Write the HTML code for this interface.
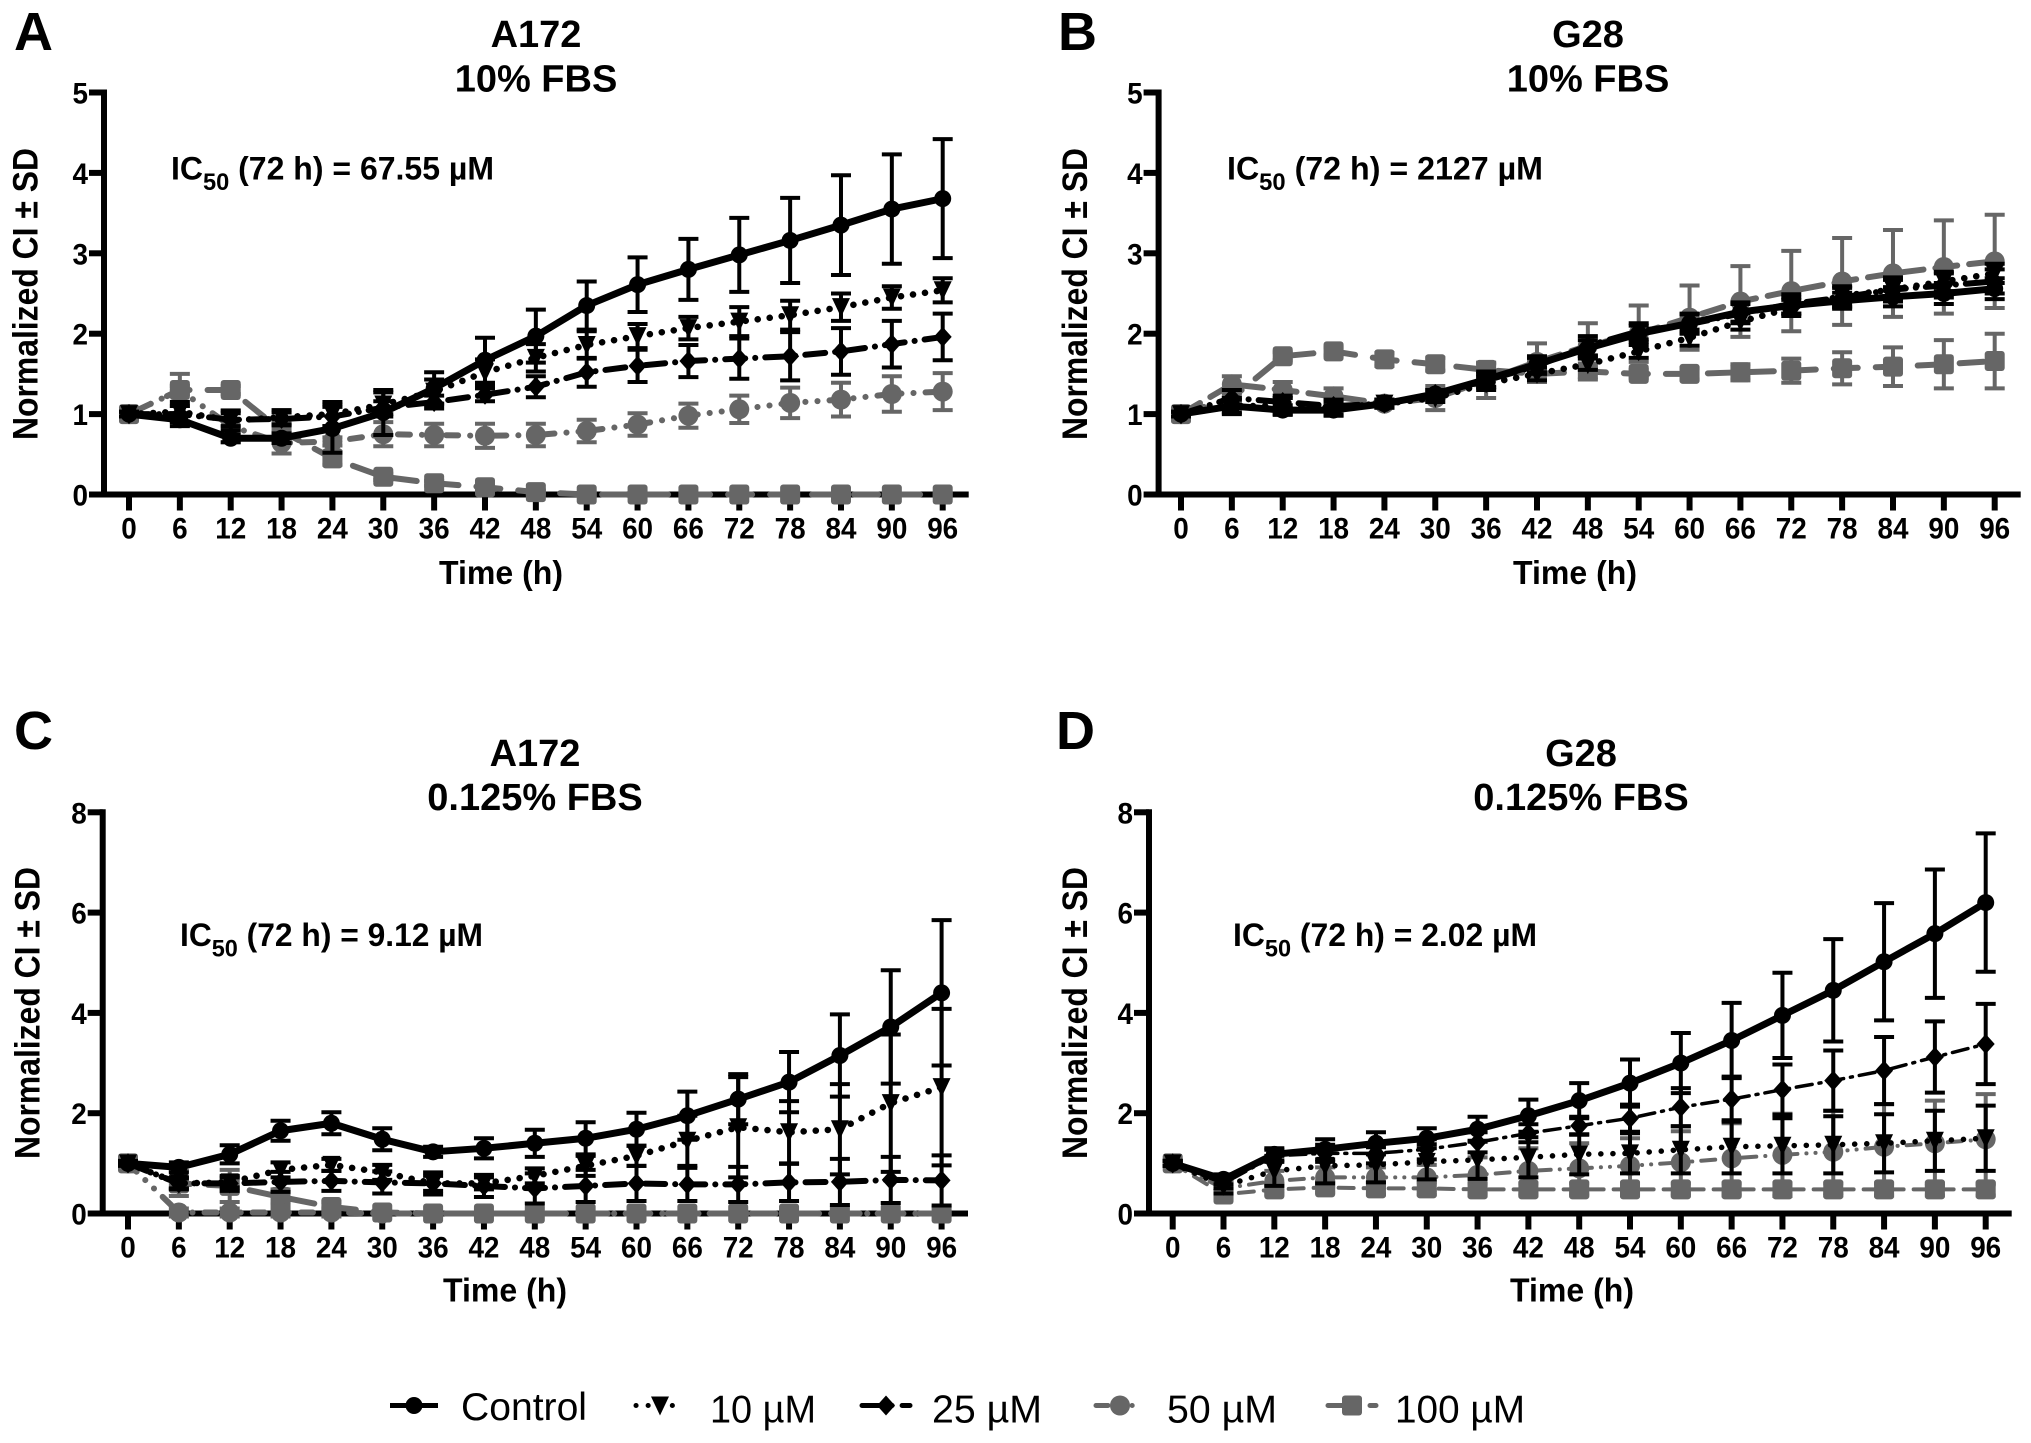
<!DOCTYPE html>
<html>
<head>
<meta charset="utf-8">
<title>Normalized cell index by treatment</title>
<style>
html,body{margin:0;padding:0;background:#fff;width:2031px;height:1443px;overflow:hidden}
svg{display:block;font-family:"Liberation Sans",sans-serif;font-weight:bold;fill:#000}
</style>
</head>
<body>
<svg id="fig" width="2031" height="1443" viewBox="0 0 2031 1443" xmlns="http://www.w3.org/2000/svg">
<rect width="2031" height="1443" fill="#fff"/>
<text x="14" y="50" font-size="54">A</text>
<text x="1058" y="50" font-size="54">B</text>
<text x="14" y="749" font-size="54">C</text>
<text x="1056" y="749" font-size="54">D</text>
<g text-anchor="middle" font-size="38">
<text x="536" y="47">A172</text>
<text x="536" y="91.5">10% FBS</text>
<text x="1588" y="47">G28</text>
<text x="1588" y="91.5">10% FBS</text>
<text x="535" y="766">A172</text>
<text x="535" y="810">0.125% FBS</text>
<text x="1581" y="766">G28</text>
<text x="1581" y="810">0.125% FBS</text>
</g>
<g font-size="32.5">
<text x="171" y="179.5" textLength="323" lengthAdjust="spacingAndGlyphs">IC<tspan font-size="24" dy="10.5">50</tspan><tspan dy="-10.5"> (72 h) = 67.55 µM</tspan></text>
<text x="1227" y="179.5" textLength="316" lengthAdjust="spacingAndGlyphs">IC<tspan font-size="24" dy="10.5">50</tspan><tspan dy="-10.5"> (72 h) = 2127 µM</tspan></text>
<text x="180" y="946" textLength="303" lengthAdjust="spacingAndGlyphs">IC<tspan font-size="24" dy="10.5">50</tspan><tspan dy="-10.5"> (72 h) = 9.12 µM</tspan></text>
<text x="1233" y="946" textLength="304" lengthAdjust="spacingAndGlyphs">IC<tspan font-size="24" dy="10.5">50</tspan><tspan dy="-10.5"> (72 h) = 2.02 µM</tspan></text>
</g>
<g id="panels"></g>
<g id="legend"></g>
</svg>
<script>
// Shared axis data
const timeTicks = [0,6,12,18,24,30,36,42,48,54,60,66,72,78,84,90,96];
const yTicksTop = [0,1,2,3,4,5];
const yTicksBottom = [0,2,4,6,8];
const seriesNames = ['100 µM','50 µM','25 µM','10 µM','Control'];
const legendNames = ['Control','10 µM','25 µM','50 µM','100 µM'];

// Panel A: A172, 10% FBS
const aControl = [1,.93,.70,.70,.82,1.02,1.32,1.67,1.97,2.35,2.61,2.80,2.98,3.16,3.35,3.55,3.68];
const aControlSd = [.03,.08,.05,.06,.3,.28,.2,.28,.33,.30,.34,.38,.46,.53,.62,.68,.74];
const a10 = [1,1.03,.92,.96,1.0,1.12,1.28,1.52,1.70,1.86,1.97,2.07,2.15,2.23,2.33,2.45,2.54];
const a10Sd = [.03,.12,.12,.09,.15,.15,.15,.16,.17,.17,.15,.14,.18,.18,.17,.14,.15];
const a25 = [1,1.0,.93,.94,.97,1.08,1.15,1.24,1.34,1.52,1.60,1.66,1.69,1.72,1.78,1.87,1.96];
const a25Sd = [.03,.1,.08,.08,.12,.08,.08,.08,.13,.18,.2,.2,.25,.3,.29,.29,.29];
const a50 = [1,1.3,.85,.64,.66,.75,.74,.73,.74,.79,.87,.98,1.06,1.14,1.18,1.25,1.28];
const a50Sd = [.05,.2,.2,.13,.05,.15,.14,.15,.14,.14,.14,.15,.17,.19,.21,.22,.23];
const a100 = [1,1.3,1.3,.79,.45,.22,.14,.09,.03,0,0,0,0,0,0,0,0];
const a100Sd = [.03,.05,.05,.1,.08,.04,.03,.03,.02,.01,.01,.01,.01,.01,.01,.01,.01];

// Panel B: G28, 10% FBS
const bControl = [1,1.1,1.05,1.05,1.13,1.25,1.43,1.62,1.82,2.0,2.13,2.27,2.35,2.41,2.46,2.5,2.56];
const bControlSd = [.03,.08,.06,.06,.05,.05,.1,.1,.1,.1,.12,.12,.1,.1,.12,.13,.13];
const b10 = [1,1.1,1.1,1.08,1.13,1.2,1.38,1.5,1.62,1.78,1.95,2.15,2.32,2.47,2.55,2.65,2.75];
const b10Sd = [.03,.1,.1,.1,.05,.05,.08,.08,.07,.08,.1,.1,.1,.12,.12,.12,.12];
const b25 = [1,1.2,1.15,1.1,1.13,1.25,1.42,1.6,1.85,2.03,2.12,2.25,2.37,2.45,2.55,2.6,2.65];
const b25Sd = [.03,.1,.08,.06,.05,.05,.08,.1,.12,.1,.12,.12,.12,.12,.15,.15,.15];
const b50 = [1,1.37,1.3,1.22,1.13,1.2,1.42,1.65,1.85,2.0,2.2,2.4,2.53,2.65,2.75,2.83,2.9];
const b50Sd = [.05,.1,.1,.1,.05,.15,.22,.23,.28,.35,.4,.44,.5,.54,.54,.58,.58];
const b100 = [1,1.2,1.72,1.78,1.68,1.62,1.55,1.5,1.53,1.5,1.5,1.52,1.54,1.57,1.59,1.62,1.66];
const b100Sd = [.03,.08,.05,.05,.08,.08,.08,.1,.1,.05,.07,.1,.15,.2,.24,.3,.34];

// Panel C: A172, 0.125% FBS
const cControl = [1,.92,1.18,1.65,1.8,1.48,1.23,1.3,1.4,1.5,1.68,1.95,2.28,2.62,3.15,3.72,4.4];
const cControlSd = [.05,.1,.18,.2,.22,.22,.1,.2,.27,.32,.33,.48,.5,.6,.82,1.13,1.45];
const c10 = [1,.6,.62,.87,.97,.82,.6,.6,.75,.95,1.15,1.45,1.72,1.62,1.68,2.2,2.52];
const c10Sd = [.03,.1,.1,.15,.12,.15,.15,.12,.15,.2,.2,.5,1.0,.62,.9,1.37,1.56];
const c25 = [1,.6,.6,.63,.65,.62,.6,.55,.5,.55,.6,.58,.58,.62,.63,.67,.66];
const c25Sd = [.03,.12,.15,.2,.2,.22,.22,.22,.3,.32,.35,.33,.35,.37,.46,.46,.5];
const c50 = [1,.02,.02,.02,.02,0,0,0,0,0,0,0,0,0,0,0,0];
const c50Sd = [.05,.08,.08,.08,.08,.01,.01,.01,.01,.01,.01,.01,.01,.01,.01,.01,.01];
const c100 = [1,.6,.55,.33,.13,.02,0,0,0,0,0,0,0,0,0,0,0];
const c100Sd = [.05,.25,.32,.15,.1,.02,.01,.01,.01,.01,.01,.01,.01,.01,.01,.01,.01];

// Panel D: G28, 0.125% FBS
const dControl = [1,.68,1.18,1.28,1.4,1.5,1.68,1.95,2.25,2.6,3.0,3.45,3.95,4.45,5.02,5.58,6.2];
const dControlSd = [.05,.1,.12,.2,.22,.2,.25,.32,.35,.47,.6,.75,.85,1.02,1.17,1.28,1.38];
const d10 = [1,.55,.85,.95,.97,1.03,1.07,1.12,1.18,1.2,1.27,1.33,1.35,1.37,1.4,1.45,1.5];
const d10Sd = [.05,.15,.3,.35,.35,.35,.38,.4,.4,.4,.47,.53,.55,.57,.58,.6,.65];
const d25 = [1,.6,1.15,1.2,1.2,1.28,1.42,1.6,1.75,1.9,2.12,2.28,2.47,2.65,2.85,3.12,3.38];
const d25Sd = [.05,.1,.12,.17,.2,.2,.2,.18,.18,.27,.38,.45,.5,.6,.67,.71,.8];
const d50 = [1,.5,.65,.72,.72,.72,.77,.85,.9,.95,1.02,1.1,1.17,1.23,1.33,1.4,1.48];
const d50Sd = [.05,.15,.2,.2,.2,.25,.35,.45,.5,.55,.62,.7,.82,.82,.85,.85,.9];
const d100 = [1,.38,.48,.52,.5,.5,.48,.48,.48,.48,.48,.48,.48,.48,.48,.48,.48];
const d100Sd = [.05,.1,.1,.1,.12,.12,.12,.12,.12,.12,.12,.12,.12,.12,.12,.12,.12];

const NS = 'http://www.w3.org/2000/svg';
const GRAY = '#666';
const STYLE = [
  {color:GRAY,width:6,dash:'24 18',marker:'square'},
  {color:GRAY,width:6,dash:'12 12 0.1 12 0.1 12',marker:'bigcircle'},
  {color:'#000',width:6,dash:'20 10 0.1 10',marker:'diamond'},
  {color:'#000',width:6.5,dash:'0.1 12',marker:'triangle'},
  {color:'#000',width:7,dash:'',marker:'circle'}
];
// Per-panel stroke overrides, keyed panel id then series index
const STROKE_OVERRIDE = {
  b:{1:{width:6,dash:'22 12'}},
  d:{0:{width:4,dash:'15 10'},1:{width:4,dash:'14 9 0.1 9 0.1 9'},2:{width:3.5,dash:'16 7 2 7'},3:{width:5.5,dash:'0.1 12'}}
};

function el(tag, attrs, parent){
  const e = document.createElementNS(NS, tag);
  for(const k in attrs) e.setAttribute(k, attrs[k]);
  parent.appendChild(e);
  return e;
}
function slug(s){ return s.toLowerCase().replace(/[^a-z0-9]+/g,'-'); }

function drawMarker(g, kind, cx, cy, color){
  let m;
  if(kind==='circle') m = el('circle',{cx:cx,cy:cy,r:8.5,fill:color},g);
  else if(kind==='bigcircle') m = el('circle',{cx:cx,cy:cy,r:10,fill:color},g);
  else if(kind==='square') m = el('rect',{x:cx-10,y:cy-10,width:20,height:20,rx:3,fill:color},g);
  else if(kind==='diamond') m = el('polygon',{points:[cx,cy-10,cx+9,cy,cx,cy+10,cx-9,cy].join(','),fill:color},g);
  else m = el('polygon',{points:[cx-9,cy-9,cx+9,cy-9,cx,cy+10].join(','),fill:color},g);
  
  
}

const panelDefs = [
  {id:'a',axisX:104,x0:129,x96:942.7,right:968.7,yBase:494.5,yTop:92.5,yMax:5,yTicks:yTicksTop,tickY:538.5,labelY:584,labelX:501,yTitleX:37.5,yTitleY:294,
   values:[a100,a50,a25,a10,aControl],sds:[a100Sd,a50Sd,a25Sd,a10Sd,aControlSd]},
  {id:'b',axisX:1158.6,x0:1181,x96:1994.7,right:2020.7,yBase:494.5,yTop:92.5,yMax:5,yTicks:yTicksTop,tickY:538.5,labelY:584,labelX:1575,yTitleX:1087,yTitleY:294,
   values:[b100,b50,b25,b10,bControl],sds:[b100Sd,b50Sd,b25Sd,b10Sd,bControlSd]},
  {id:'c',axisX:102.7,x0:128,x96:941.6,right:968,yBase:1213.5,yTop:812.3,yMax:8,yTicks:yTicksBottom,tickY:1257.3,labelY:1301.5,labelX:505,yTitleX:39.5,yTitleY:1013,
   values:[c100,c50,c25,c10,cControl],sds:[c100Sd,c50Sd,c25Sd,c10Sd,cControlSd]},
  {id:'d',axisX:1149,x0:1172.7,x96:1985.7,right:2011.7,yBase:1213.5,yTop:812.3,yMax:8,yTicks:yTicksBottom,tickY:1257.3,labelY:1301.5,labelX:1572,yTitleX:1087,yTitleY:1013,
   values:[d100,d50,d25,d10,dControl],sds:[d100Sd,d50Sd,d25Sd,d10Sd,dControlSd]}
];

const root = document.getElementById('panels');
panelDefs.forEach(function(p){
  const xScale = t => p.x0 + (t/96)*(p.x96-p.x0);
  const yScale = v => p.yBase - (v/p.yMax)*(p.yBase-p.yTop);

  const panel = el('g',{},root);
  
  

  const axes = el('g',{stroke:'#000','stroke-width':6,fill:'none'},panel);
  
  
  const xAxis = el('line',{x1:p.axisX-3,x2:p.right,y1:p.yBase,y2:p.yBase},axes);
  
  
  const yAxis = el('line',{x1:p.axisX,x2:p.axisX,y1:p.yTop-3,y2:p.yBase},axes);
  
  

  timeTicks.forEach(function(t){
    const tk = el('line',{x1:xScale(t),x2:xScale(t),y1:p.yBase,y2:p.yBase+16},axes);
    
    
    const lb = el('text',{x:xScale(t),y:p.tickY,'text-anchor':'middle','font-size':30,textLength:String(t).length*15.5,lengthAdjust:'spacingAndGlyphs'},panel);
    lb.textContent = t;
    
    
  });
  p.yTicks.forEach(function(v){
    const tk = el('line',{x1:p.axisX-15,x2:p.axisX,y1:yScale(v),y2:yScale(v)},axes);
    
    
    const lb = el('text',{x:p.axisX-16,y:yScale(v)+11,'text-anchor':'end','font-size':30,textLength:15.5,lengthAdjust:'spacingAndGlyphs'},panel);
    lb.textContent = v;
    
    
  });

  const xt = el('text',{x:p.labelX,y:p.labelY,'text-anchor':'middle','font-size':33,textLength:124,lengthAdjust:'spacingAndGlyphs'},panel);
  xt.textContent = 'Time (h)';
  
  

  const yt = el('text',{x:0,y:0,'text-anchor':'middle','font-size':35,textLength:292,lengthAdjust:'spacingAndGlyphs',transform:'translate('+p.yTitleX+' '+p.yTitleY+') rotate(-90)'},panel);
  yt.textContent = 'Normalized CI ± SD';
  
  

  p.values.forEach(function(vals, si){
    const st = STYLE[si];
    const ov = (STROKE_OVERRIDE[p.id] && STROKE_OVERRIDE[p.id][si]) || st;
    const sd = p.sds[si];
    const g = el('g',{},panel);
    
    

    vals.forEach(function(v,i){
      const cx = xScale(timeTicks[i]);
      const hi = yScale(v+sd[i]), lo = yScale(v-sd[i]);
      const eb = el('path',{d:'M'+(cx-10)+' '+hi+'H'+(cx+10)+'M'+cx+' '+hi+'V'+lo+'M'+(cx-10)+' '+lo+'H'+(cx+10),stroke:st.color,'stroke-width':4,fill:'none'},g);
      
      
    });

    const pts = vals.map((v,i)=>xScale(timeTicks[i])+','+yScale(v)).join(' ');
    const ln = el('polyline',{points:pts,fill:'none',stroke:st.color,'stroke-width':ov.width,'stroke-dasharray':ov.dash,'stroke-linecap':ov.dash?'round':'butt','stroke-linejoin':'round'},g);
    
    

    vals.forEach(function(v,i){
      drawMarker(g, st.marker, xScale(timeTicks[i]), yScale(v), st.color);
    });
  });
});

// Legend
const legendRoot = document.getElementById('legend');
const legendStyle = [STYLE[4],STYLE[3],STYLE[2],STYLE[1],STYLE[0]];
const legendSymbolX = [414,660,886,1120,1352];
const legendTextX = [461,710,932,1167,1395];
const legendTextW = [126,106,110,110,130];
const legendTextY = [1420,1422.5,1422.5,1422.5,1422.5];
legendNames.forEach(function(name,i){
  const st = legendStyle[i];
  const cx = legendSymbolX[i];
  const g = el('g',{},legendRoot);
  
  
  const ln = el('line',{x1:cx-24,x2:cx+24,y1:1405.5,y2:1405.5,stroke:st.color,'stroke-width':5,'stroke-dasharray':st.dash,'stroke-linecap':st.dash?'round':'butt'},g);
  
  
  drawMarker(g, st.marker, cx, 1405.5, st.color);
  const tx = el('text',{x:legendTextX[i],y:legendTextY[i],'font-size':39,'font-weight':'normal',textLength:legendTextW[i],lengthAdjust:'spacingAndGlyphs'},g);
  tx.textContent = name;
  
  
});
</script>
</body>
</html>
